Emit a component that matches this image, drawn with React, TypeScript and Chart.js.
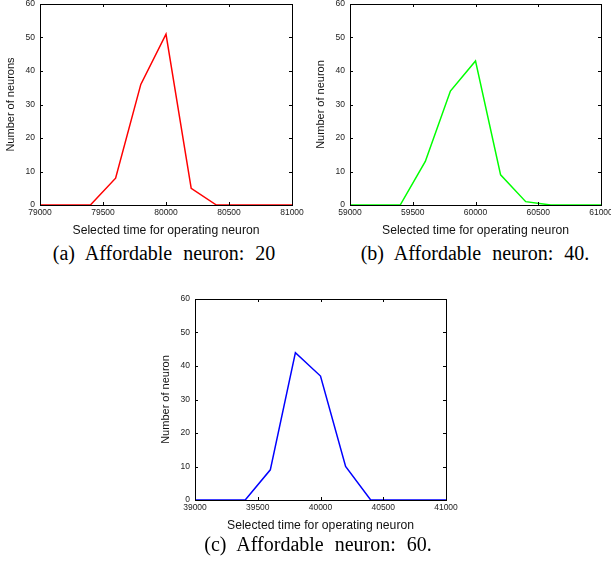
import React, { useEffect, useRef } from "react";
import { Chart, registerables } from "chart.js";

Chart.register(...registerables);

// ---- Data ----
const xA = [79000, 79200, 79400, 79600, 79800, 80000, 80200, 80400, 80600, 80800, 81000];
const yA = [0, 0, 0, 8, 36, 51, 5, 0, 0, 0, 0];
const xB = [59000, 59200, 59400, 59600, 59800, 60000, 60200, 60400, 60600, 60800, 61000];
const yB = [0, 0, 0, 13, 34, 43, 9, 1, 0, 0, 0];
const xC = [39000, 39200, 39400, 39600, 39800, 40000, 40200, 40400, 40600, 40800, 41000];
const yC = [0, 0, 0, 9, 44, 37, 10, 0, 0, 0, 0];

const xTicksA = [79000, 79500, 80000, 80500, 81000];
const xTicksB = [59000, 59500, 60000, 60500, 61000];
const xTicksC = [39000, 39500, 40000, 40500, 41000];
const yTicks = [0, 10, 20, 30, 40, 50, 60];

const xTitle = "Selected time for operating neuron";
const yTitleA = "Number of neurons";
const yTitleB = "Number of neuron";
const yTitleC = "Number of neuron";
const captionA = "(a) Affordable neuron: 20";
const captionB = "(b) Affordable neuron: 40.";
const captionC = "(c) Affordable neuron: 60.";

const SANS = "'Liberation Sans', Arial, Helvetica, sans-serif";
const SERIF = "'Liberation Serif', 'Times New Roman', serif";

const boxTicksPlugin = {
  id: "boxTicks",
  afterDraw(chart: any) {
    const { ctx, chartArea, scales } = chart;
    const { left, right, top, bottom } = chartArea;
    const len = 3;
    ctx.save();
    ctx.strokeStyle = "#000";
    ctx.lineWidth = 1;
    ctx.beginPath();
    scales.y.ticks.forEach((t: any) => {
      const py = Math.round(scales.y.getPixelForValue(t.value)) + 0.5;
      ctx.moveTo(left, py);
      ctx.lineTo(left + len, py);
      ctx.moveTo(right, py);
      ctx.lineTo(right - len, py);
    });
    scales.x.ticks.forEach((t: any) => {
      const px = Math.round(scales.x.getPixelForValue(t.value)) + 0.5;
      ctx.moveTo(px, bottom);
      ctx.lineTo(px, bottom - len);
      ctx.moveTo(px, top);
      ctx.lineTo(px, top + len);
    });
    ctx.stroke();
    ctx.strokeRect(Math.round(left) + 0.5, Math.round(top) + 0.5, Math.round(right - left), Math.round(bottom - top));
    ctx.restore();
  },
};

type PanelProps = {
  left: number;
  top: number;
  width: number;
  height: number;
  yAxisW: number;
  padTop: number;
  padRight: number;
  xs: number[];
  ys: number[];
  xTicks: number[];
  color: string;
  yTitle: string;
  yTitlePad: number;
};

function Panel(p: PanelProps) {
  const ref = useRef<HTMLCanvasElement | null>(null);
  useEffect(() => {
    if (!ref.current) return;
    const chart = new Chart(ref.current, {
      type: "line",
      data: {
        datasets: [
          {
            data: p.xs.map((x, i) => ({ x, y: p.ys[i] })),
            borderColor: p.color,
            borderWidth: 1.5,
            pointRadius: 0,
            tension: 0,
            fill: false,
          },
        ],
      },
      plugins: [boxTicksPlugin],
      options: {
        animation: false,
        responsive: false,
        devicePixelRatio: 1,
        layout: { padding: { top: p.padTop, right: p.padRight, left: 0, bottom: 0 } },
        plugins: { legend: { display: false }, tooltip: { enabled: false } },
        scales: {
          x: {
            type: "linear",
            min: p.xTicks[0],
            max: p.xTicks[p.xTicks.length - 1],
            afterBuildTicks: (s: any) => {
              s.ticks = p.xTicks.map((v) => ({ value: v }));
            },
            afterFit: (s: any) => {
              s.height = p.height - 205;
              s.paddingLeft = 0;
              s.paddingRight = 0;
            },
            grid: { display: false, drawTicks: false },
            border: { display: false },
            ticks: {
              autoSkip: false,
              maxRotation: 0,
              padding: 3,
              color: "#222",
              font: { family: SANS, size: 8.5 },
              callback: (v: any) => String(v),
            },
            title: {
              display: true,
              text: xTitle,
              color: "#111",
              font: { family: SANS, size: 12.2 },
              padding: { top: 0, bottom: 2.5 },
            },
          },
          y: {
            type: "linear",
            min: yTicks[0],
            max: yTicks[yTicks.length - 1],
            afterBuildTicks: (s: any) => {
              s.ticks = yTicks.map((v) => ({ value: v }));
            },
            afterFit: (s: any) => {
              s.width = p.yAxisW;
              s.paddingTop = 0;
              s.paddingBottom = 0;
            },
            grid: { display: false, drawTicks: false },
            border: { display: false },
            ticks: {
              padding: 5,
              color: "#222",
              font: { family: SANS, size: 8.5 },
              callback: (v: any) => String(v),
            },
            title: {
              display: true,
              text: p.yTitle,
              color: "#111",
              font: { family: SANS, size: 11 },
              padding: { top: p.yTitlePad, bottom: 0 },
            },
          },
        },
      } as any,
    });
    return () => chart.destroy();
  }, []);
  return (
    <canvas
      ref={ref}
      width={p.width}
      height={p.height}
      style={{ position: "absolute", left: p.left, top: p.top, width: p.width, height: p.height }}
    />
  );
}

function Caption({ text, cx, top }: { text: string; cx: number; top: number }) {
  return (
    <div
      style={{
        position: "absolute",
        left: cx - 200,
        width: 400,
        top,
        textAlign: "center",
        fontFamily: SERIF,
        fontSize: 20,
        lineHeight: "20px",
        wordSpacing: 6,
        color: "#000",
        whiteSpace: "nowrap",
      }}
    >
      {text}
    </div>
  );
}

export default function App() {
  return (
    <div style={{ position: "absolute", left: 0, top: 0, width: 611, height: 563, background: "#fff", overflow: "hidden" }}>
      <Panel left={0} top={0} width={305} height={240} yAxisW={40} padTop={4} padRight={13} xs={xA} ys={yA} xTicks={xTicksA} color="#ff0000" yTitle={yTitleA} yTitlePad={4.4} />
      <Panel left={305} top={0} width={306} height={240} yAxisW={45} padTop={4} padRight={10} xs={xB} ys={yB} xTicks={xTicksB} color="#00ff00" yTitle={yTitleB} yTitlePad={9.4} />
      <Panel left={150} top={295} width={310} height={240} yAxisW={45} padTop={4} padRight={14} xs={xC} ys={yC} xTicks={xTicksC} color="#0000ff" yTitle={yTitleC} yTitlePad={9.4} />
      <Caption text={captionA} cx={164} top={243} />
      <Caption text={captionB} cx={475} top={243} />
      <Caption text={captionC} cx={318} top={534} />
    </div>
  );
}
